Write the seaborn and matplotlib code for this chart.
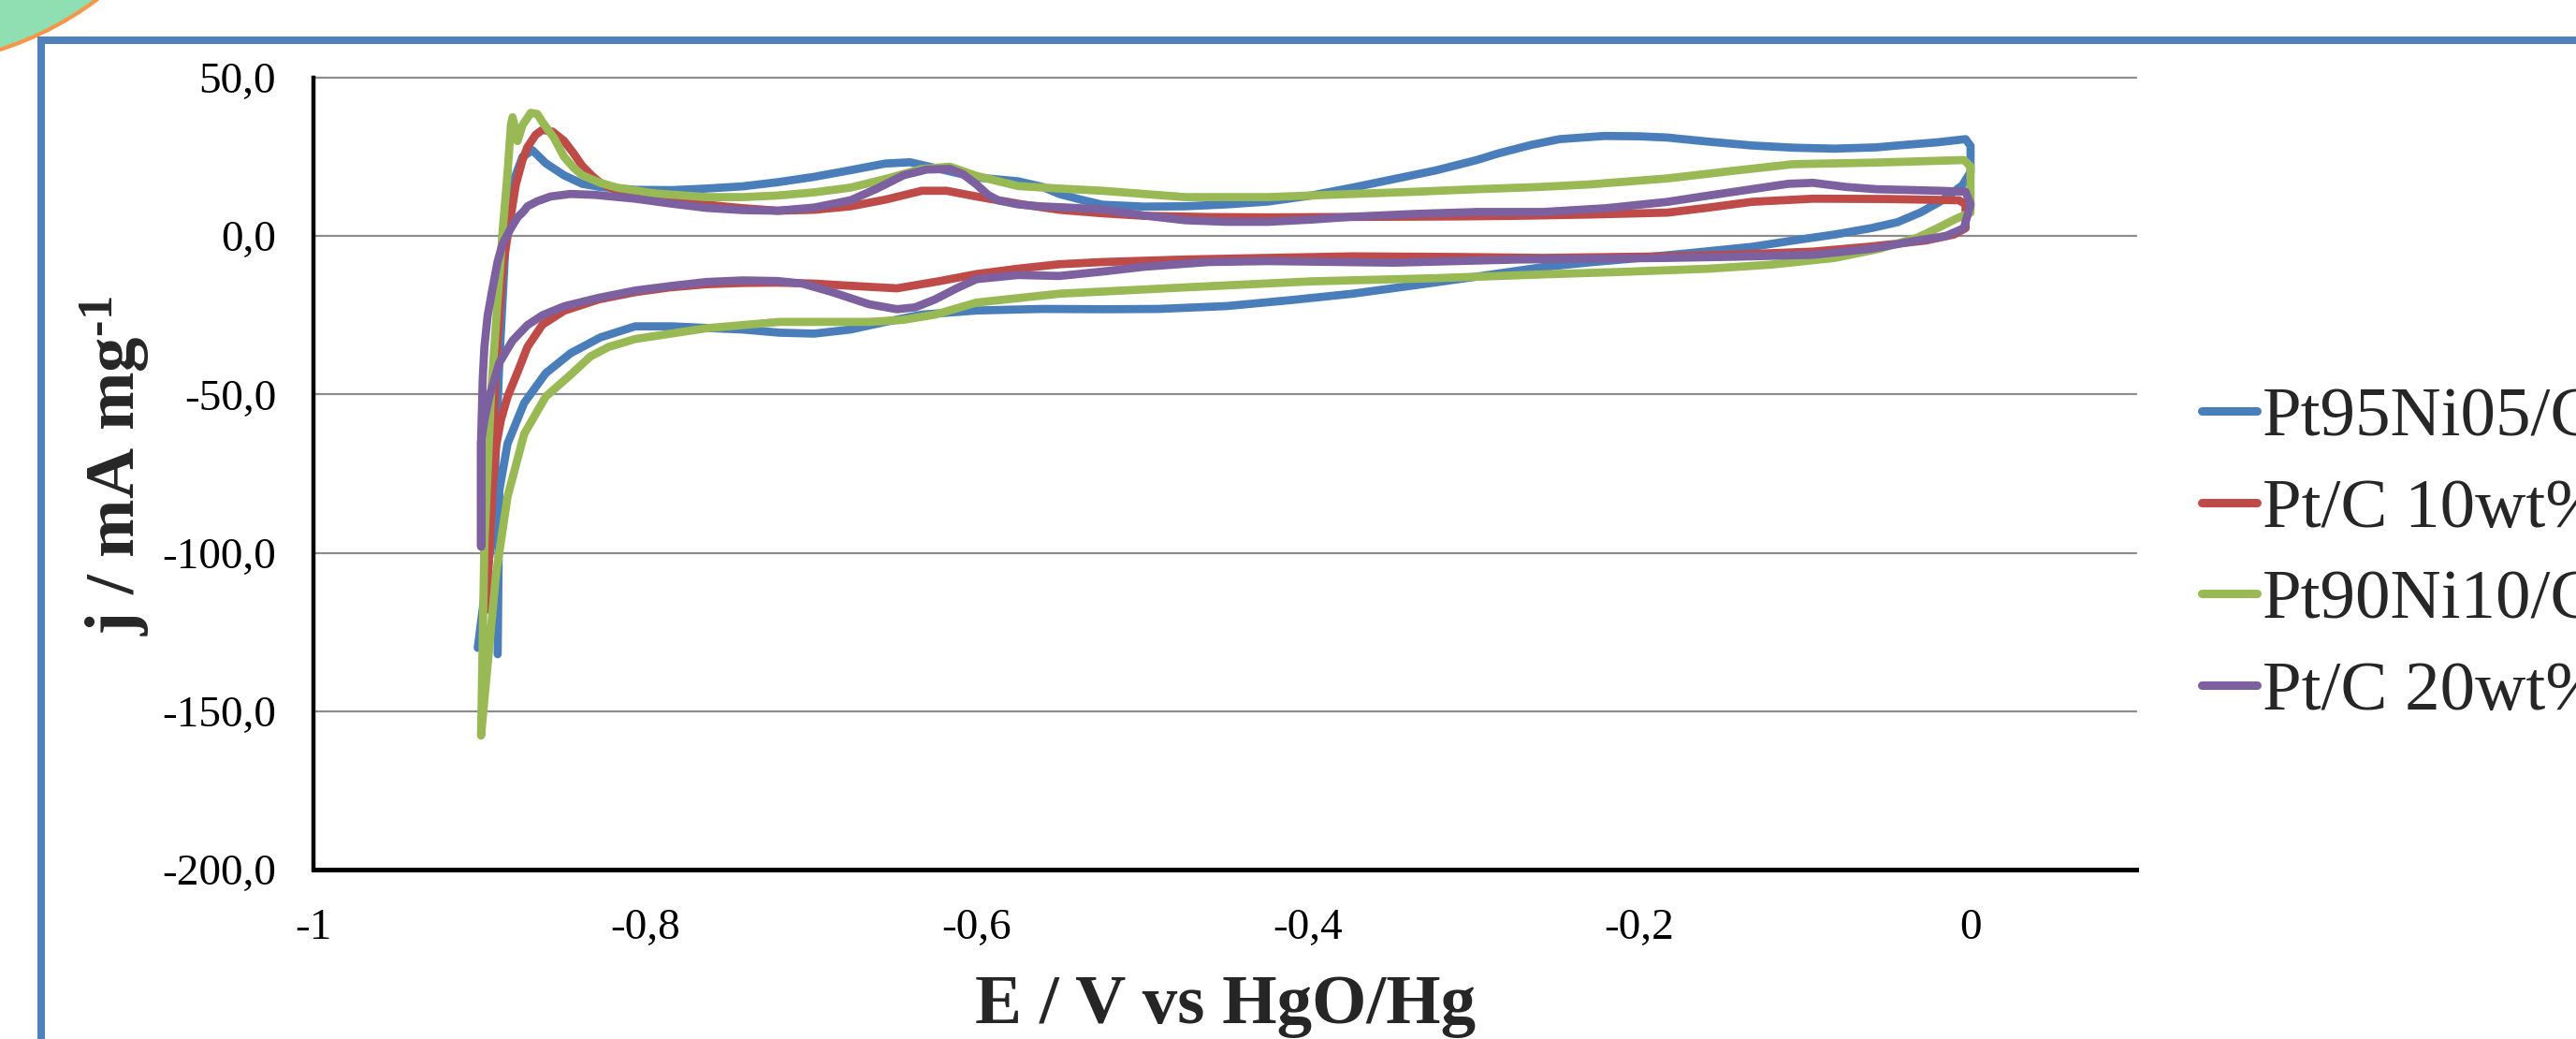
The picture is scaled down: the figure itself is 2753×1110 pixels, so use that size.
import numpy as np
import pandas as pd
import matplotlib
matplotlib.use("Agg")
import matplotlib.pyplot as plt
import seaborn as sns
from matplotlib.patches import Circle
from matplotlib.lines import Line2D
from matplotlib.transforms import IdentityTransform
from matplotlib.ticker import FuncFormatter

# ---------------- data ----------------
series_names = ["Pt95Ni05/C", "Pt/C 10wt%", "Pt90Ni10/C", "Pt/C 20wt%"]

pt95ni05_E = [-0.901, -0.892, -0.888, -0.884, -0.879, -0.874, -0.868, -0.860, -0.849, -0.838,
              -0.827, -0.806, -0.784, -0.763, -0.741, -0.720, -0.698, -0.676, -0.655, -0.640,
              -0.625, -0.600, -0.575, -0.560, -0.550, -0.537, -0.524, -0.499, -0.474, -0.449,
              -0.424, -0.398, -0.373, -0.348, -0.323, -0.298, -0.285, -0.265, -0.248, -0.221,
              -0.200, -0.183, -0.158, -0.132, -0.107, -0.082, -0.057, -0.044, -0.020, -0.003,
              0.000, 0.000, -0.005, -0.017, -0.030, -0.044, -0.060, -0.082, -0.107, -0.132,
              -0.170, -0.208, -0.230, -0.258, -0.298, -0.335, -0.373, -0.410, -0.449, -0.490,
              -0.524, -0.560, -0.600, -0.633, -0.655, -0.676, -0.698, -0.719, -0.741, -0.763,
              -0.784, -0.806, -0.827, -0.845, -0.860, -0.873, -0.883, -0.888, -0.889]
pt95ni05_j = [-130.0, -93.0, -40.0, 0.0, 18.0, 25.0, 27.1, 23.0, 19.2, 16.5,
              15.5, 14.6, 14.5, 15.0, 15.7, 17.0, 18.7, 20.8, 22.9, 23.3,
              21.5, 18.5, 17.3, 15.5, 13.3, 11.5, 9.9, 9.3, 9.4, 10.0,
              10.9, 12.8, 15.3, 18.0, 20.7, 24.0, 26.1, 28.8, 30.6, 31.6,
              31.5, 31.1, 29.8, 28.6, 27.9, 27.6, 28.0, 28.6, 29.6, 30.6,
              28.5, 20.2, 16.0, 11.3, 7.5, 4.4, 2.5, 0.5, -1.4, -3.4,
              -5.4, -7.3, -8.3, -9.8, -12.8, -15.5, -18.2, -20.2, -22.1, -23.0,
              -23.1, -23.0, -23.5, -24.8, -27.1, -29.5, -30.8, -30.5, -29.5, -29.0,
              -28.5, -28.5, -32.0, -37.0, -43.3, -52.7, -65.5, -80.3, -132.0]

ptc10_E = [-0.896, -0.893, -0.890, -0.886, -0.883, -0.878, -0.874, -0.871, -0.866, -0.862,
           -0.856, -0.849, -0.843, -0.838, -0.832, -0.827, -0.817, -0.806, -0.785, -0.763,
           -0.741, -0.720, -0.698, -0.676, -0.655, -0.633, -0.618, -0.600, -0.587, -0.570,
           -0.550, -0.524, -0.499, -0.460, -0.424, -0.386, -0.348, -0.310, -0.273, -0.230,
           -0.183, -0.158, -0.132, -0.095, -0.050, -0.007, -0.003, -0.003, -0.010, -0.027,
           -0.060, -0.095, -0.140, -0.183, -0.258, -0.310, -0.373, -0.424, -0.474, -0.524,
           -0.550, -0.575, -0.600, -0.622, -0.648, -0.676, -0.698, -0.720, -0.741, -0.763,
           -0.785, -0.806, -0.828, -0.849, -0.862, -0.871, -0.877, -0.883, -0.887, -0.890,
           -0.892, -0.894, -0.896]
ptc10_j = [-118.0, -80.0, -40.0, -10.0, 0.0, 16.3, 24.0, 28.1, 32.0, 33.5,
           33.0, 30.1, 26.0, 22.2, 19.0, 16.8, 14.3, 12.9, 11.2, 9.9,
           8.8, 8.0, 8.3, 9.4, 11.5, 14.3, 14.3, 12.5, 11.3, 9.8,
           8.3, 7.2, 6.4, 6.0, 5.9, 6.0, 6.1, 6.2, 6.4, 6.8,
           7.4, 9.0, 10.8, 11.8, 11.7, 11.3, 10.0, 2.5, 0.5, -1.4,
           -3.3, -4.9, -5.8, -6.4, -6.9, -6.6, -6.4, -6.9, -7.4, -8.2,
           -8.9, -10.3, -12.0, -14.2, -16.5, -15.7, -15.0, -14.7, -14.8, -15.2,
           -16.2, -17.7, -20.0, -23.6, -28.0, -35.0, -43.0, -50.7, -58.0, -66.4,
           -79.3, -100.0, -118.0]

pt90ni10_E = [-0.899, -0.897, -0.893, -0.889, -0.886, -0.883, -0.881, -0.880, -0.878, -0.877,
              -0.874, -0.869, -0.865, -0.862, -0.855, -0.849, -0.843, -0.838, -0.827, -0.817,
              -0.795, -0.763, -0.741, -0.720, -0.698, -0.676, -0.655, -0.633, -0.616, -0.600,
              -0.575, -0.550, -0.524, -0.499, -0.474, -0.424, -0.373, -0.335, -0.298, -0.260,
              -0.230, -0.183, -0.145, -0.107, -0.057, -0.004, 0.000, 0.000, -0.009, -0.020,
              -0.032, -0.055, -0.082, -0.120, -0.158, -0.210, -0.258, -0.323, -0.398, -0.474,
              -0.550, -0.600, -0.625, -0.645, -0.665, -0.719, -0.763, -0.806, -0.822, -0.833,
              -0.845, -0.860, -0.873, -0.883, -0.890, -0.899]
pt90ni10_j = [-157.6, -97.0, -50.0, -20.0, 1.5, 20.0, 35.0, 37.5, 33.0, 30.0,
              35.0, 38.9, 38.5, 36.0, 31.0, 25.1, 21.5, 19.2, 16.8, 15.3,
              13.5, 12.3, 12.3, 12.8, 13.8, 15.3, 18.0, 21.2, 21.9, 19.0,
              15.8, 15.0, 14.3, 13.3, 12.3, 12.3, 13.3, 14.0, 14.8, 15.5,
              16.3, 18.2, 20.5, 22.7, 23.2, 24.0, 22.0, 7.4, 5.4, 2.5,
              -0.5, -4.0, -6.9, -9.0, -10.3, -11.3, -12.1, -13.3, -14.3, -16.2,
              -18.2, -21.0, -24.8, -26.5, -27.1, -27.1, -29.1, -32.5, -35.0, -38.0,
              -43.8, -50.7, -62.5, -82.2, -106.8, -157.6]

ptc20_E = [-0.899, -0.899, -0.898, -0.897, -0.895, -0.892, -0.889, -0.886, -0.881, -0.877,
           -0.873, -0.871, -0.865, -0.857, -0.845, -0.830, -0.806, -0.785, -0.763, -0.741,
           -0.720, -0.698, -0.676, -0.660, -0.644, -0.630, -0.616, -0.608, -0.600, -0.593,
           -0.587, -0.575, -0.562, -0.545, -0.524, -0.499, -0.474, -0.449, -0.424, -0.398,
           -0.373, -0.335, -0.298, -0.258, -0.220, -0.183, -0.158, -0.132, -0.110, -0.095,
           -0.075, -0.057, -0.019, -0.003, 0.000, -0.004, -0.015, -0.032, -0.060, -0.095,
           -0.140, -0.183, -0.273, -0.348, -0.424, -0.460, -0.499, -0.524, -0.550, -0.575,
           -0.600, -0.612, -0.625, -0.637, -0.648, -0.665, -0.687, -0.705, -0.720, -0.741,
           -0.763, -0.785, -0.806, -0.828, -0.849, -0.862, -0.871, -0.880, -0.888, -0.894,
           -0.897, -0.899, -0.899]
ptc20_j = [-98.0, -65.0, -45.0, -35.0, -25.0, -16.3, -8.0, -2.5, 2.5, 5.9,
           8.0, 9.4, 11.0, 12.5, 13.3, 13.0, 11.8, 10.3, 8.9, 8.2,
           8.0, 9.0, 11.3, 15.0, 19.2, 21.0, 21.2, 19.5, 16.3, 13.0,
           11.3, 10.0, 9.4, 9.0, 8.4, 6.5, 5.0, 4.5, 4.5, 5.2,
           6.1, 7.0, 7.6, 7.6, 8.8, 10.8, 12.8, 14.8, 16.5, 16.8,
           15.5, 14.8, 14.3, 14.0, 10.0, 2.5, 0.0, -1.4, -4.0, -5.9,
           -6.5, -6.9, -7.4, -8.4, -7.9, -8.2, -9.7, -11.2, -12.6, -12.3,
           -13.6, -16.5, -20.0, -22.5, -23.1, -21.5, -17.7, -15.0, -14.2, -14.0,
           -14.5, -15.8, -17.2, -19.5, -22.2, -25.0, -28.1, -33.0, -40.0, -50.7,
           -58.0, -65.0, -98.0]

x_ticks = [-1.0, -0.8, -0.6, -0.4, -0.2, 0.0]
y_ticks = [50, 0, -50, -100, -150, -200]
x_label = "E / V vs HgO/Hg"
y_label = r"j / mA mg$^{\text{-}1}$"

colors = ["#4A7EBB", "#BE4B48", "#98B954", "#7D60A0"]

# ---------------- build long table ----------------
frames = []
for name, E, j in zip(series_names,
                      [pt95ni05_E, ptc10_E, pt90ni10_E, ptc20_E],
                      [pt95ni05_j, ptc10_j, pt90ni10_j, ptc20_j]):
    frames.append(pd.DataFrame({"E": E, "j": j, "series": name}))
df = pd.concat(frames, ignore_index=True)

# ---------------- style ----------------
sns.set_style("white")
plt.rcParams["font.family"] = ["Liberation Serif", "DejaVu Serif"]
plt.rcParams["mathtext.fontset"] = "custom"
plt.rcParams["mathtext.rm"] = "Liberation Serif:bold"
plt.rcParams["mathtext.bf"] = "Liberation Serif:bold"
plt.rcParams["mathtext.it"] = "Liberation Serif:bold"
plt.rcParams["axes.unicode_minus"] = False

W, H = 2753, 1110
fig = plt.figure(figsize=(W / 100, H / 100), dpi=100)
fig.patch.set_facecolor("white")

# slide decorations (pixel coordinates, origin bottom-left)
circ = Circle((-107.5, H + 282.5), 352.3, transform=IdentityTransform(),
              facecolor="#8FDFB2", edgecolor="#F79646", linewidth=3.0, zorder=0)
fig.add_artist(circ)
frame = Line2D([W + 20, 44, 44], [H - 43, H - 43, -20], transform=IdentityTransform(),
               color="#4F81BD", linewidth=5.8, solid_joinstyle="miter", zorder=1)
fig.add_artist(frame)

ax = fig.add_axes([335.3 / W, 1 - 929 / H, (2283 - 335.3) / W, (929 - 83) / H])
ax.set_facecolor("none")

sns.lineplot(data=df, x="E", y="j", hue="series", hue_order=series_names,
             palette=colors, sort=False, estimator=None, units="series",
             linewidth=6.3, ax=ax, legend=True)
for ln in ax.get_lines():
    ln.set_solid_capstyle("round")
    ln.set_solid_joinstyle("round")

ax.set_xlim(-1.0, 0.1)
ax.set_ylim(-200, 50)
ax.set_xticks(x_ticks)
ax.set_yticks(y_ticks)


def fmt_x(v, pos):
    if abs(v - round(v)) < 1e-9:
        return "%d" % round(v)
    return ("%.1f" % v).replace(".", ",")


def fmt_y(v, pos):
    return ("%.1f" % v).replace(".", ",")


ax.xaxis.set_major_formatter(FuncFormatter(fmt_x))
ax.yaxis.set_major_formatter(FuncFormatter(fmt_y))
ax.tick_params(axis="both", length=0, labelsize=34, colors="black")
ax.tick_params(axis="y", pad=29)
ax.tick_params(axis="x", pad=30)

ax.grid(axis="y", color="#8C8C8C", linewidth=1.6)
ax.grid(axis="x", visible=False)
ax.set_axisbelow(True)
for g in ax.get_ygridlines():
    g.set_clip_on(False)

for side in ["top", "right"]:
    ax.spines[side].set_visible(False)
ax.spines["left"].set_color("black")
ax.spines["left"].set_linewidth(3.2)
ax.spines["bottom"].set_color("black")
ax.spines["bottom"].set_linewidth(3.6)
ax.spines["left"].set_zorder(5)
ax.spines["bottom"].set_zorder(5)

ax.set_xlabel(x_label, fontsize=54, fontweight="bold")
ax.set_ylabel(y_label, fontsize=54, fontweight="bold")
ax.xaxis.set_label_coords(0.5, -0.132)
ax.yaxis.set_label_coords(-0.0885, 0.51)

handles, labels = ax.get_legend_handles_labels()
for h in handles:
    h.set_linewidth(6.5)
    h.set_solid_capstyle("round")
ax.legend(handles, labels, loc="center left", bbox_to_anchor=(2353 / W, 1 - 593.5 / H),
          bbox_transform=fig.transFigure, frameon=False, fontsize=54,
          handlelength=0.78, handletextpad=0.08, labelspacing=0.385,
          borderaxespad=0, borderpad=0)

fig.savefig("out.png", dpi=100)
